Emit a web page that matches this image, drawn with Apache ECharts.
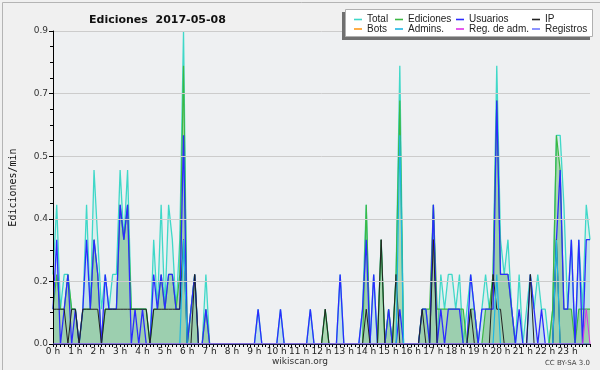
<!DOCTYPE html>
<html>
<head>
<meta charset="utf-8">
<script src="https://cdn.jsdelivr.net/npm/echarts@6/dist/echarts.min.js"></script>
<style>html,body{margin:0;padding:0;background:#f0f0f0;}#c{width:600px;height:370px;}</style>
</head>
<body>
<div id="c"></div>
<script>
// 10-minute bins, index i -> hour i/6 (145 points, 0 h .. 24 h)
const total = [
 0.2,0.4,0.1,0.2,0.2,0.1, 0.1,0,0.1,0.4,0.1,0.5, 0.3,0.1,0.2,0.1,0.2,0.2, 0.5,0.3,0.5,0.1,0.1,0.1,
 0.1,0.1,0,0.3,0.1,0.4, 0.1,0.4,0.3,0.1,0.3,0.9, 0,0.1,0.2,0,0,0.2, 0,0,0,0,0,0,
 0,0,0,0,0,0, 0,0.1,0,0,0,0, 0,0.1,0,0,0,0, 0,0,0,0.1,0,0,
 0,0.1,0,0,0,0.2, 0,0,0,0,0,0.1, 0.4,0,0.2,0,0.3,0, 0.1,0,0.2,0.8,0,0,
 0,0,0,0.1,0.1,0, 0.4,0,0.2,0.1,0.2,0.2, 0.1,0.2,0,0.1,0.2,0.1, 0,0.1,0.2,0.1,0.2,0.8,
 0.3,0.2,0.3,0.1,0,0.2, 0,0.1,0.2,0.1,0.2,0.1, 0.1,0,0.1,0.6,0.6,0.4, 0.1,0.3,0,0.3,0.1,0.4,
 0.3];
const ediciones = [
 0.1,0.2,0.1,0.1,0.2,0.1, 0.1,0,0.1,0.1,0.1,0.3, 0.2,0,0.1,0.1,0.1,0.1, 0.4,0.3,0.4,0.1,0.1,0.1,
 0.1,0.1,0,0.1,0.1,0.2, 0.1,0.2,0.2,0.1,0.2,0.8, 0,0.1,0.2,0,0,0.1, 0,0,0,0,0,0,
 0,0,0,0,0,0, 0,0,0,0,0,0, 0,0,0,0,0,0, 0,0,0,0,0,0,
 0,0.1,0,0,0,0, 0,0,0,0,0,0, 0.4,0,0,0,0.3,0, 0.1,0,0.2,0.7,0,0,
 0,0,0,0.1,0.1,0.1, 0.4,0.1,0.1,0.1,0.1,0.1, 0.1,0.1,0.1,0,0.1,0.1, 0,0,0.1,0.1,0.2,0.7,
 0.2,0.2,0.2,0.1,0,0, 0,0,0,0,0,0, 0,0,0.1,0.6,0.5,0.1, 0.1,0.1,0,0.1,0.1,0.1,
 0.1];
const usuarios = [
 0.1,0.3,0,0.1,0.2,0, 0.1,0,0.1,0.3,0.1,0.3, 0.2,0,0.2,0.1,0.1,0.1, 0.4,0.3,0.4,0,0.1,0,
 0.1,0,0,0.2,0.1,0.2, 0.1,0.2,0.2,0.1,0.1,0.6, 0,0.1,0.2,0,0,0.1, 0,0,0,0,0,0,
 0,0,0,0,0,0, 0,0.1,0,0,0,0, 0,0.1,0,0,0,0, 0,0,0,0.1,0,0,
 0,0,0,0,0,0.2, 0,0,0,0,0,0.1, 0.3,0,0.2,0,0,0, 0.1,0,0,0.1,0,0,
 0,0,0,0.1,0.1,0, 0.4,0,0.1,0,0.1,0.1, 0.1,0.1,0,0,0.2,0.1, 0,0.1,0.1,0.1,0.1,0.7,
 0.2,0.2,0.2,0.1,0,0.1, 0,0,0.2,0.1,0,0.1, 0,0,0,0.3,0.5,0.1, 0.1,0.3,0,0.3,0,0.3,
 0.3];
const ip = [
 0.1,0.1,0.1,0.1,0,0.1, 0.1,0,0.1,0.1,0.1,0.1, 0.1,0,0.1,0.1,0.1,0.1, 0.1,0.1,0.1,0.1,0.1,0.1,
 0.1,0.1,0,0.1,0.1,0.1, 0.1,0.1,0.1,0.1,0.1,0.3, 0,0,0.2,0,0,0, 0,0,0,0,0,0,
 0,0,0,0,0,0, 0,0,0,0,0,0, 0,0,0,0,0,0, 0,0,0,0,0,0,
 0,0.1,0,0,0,0, 0,0,0,0,0,0, 0.1,0,0,0,0.3,0, 0,0,0.2,0,0,0,
 0,0,0,0.1,0,0, 0.3,0,0,0,0,0, 0,0,0,0,0.1,0, 0,0,0,0,0.2,0.1,
 0.1,0,0,0,0,0, 0,0,0.2,0,0,0, 0,0,0,0.3,0,0, 0,0,0,0,0,0,
 0];
const bots = new Array(145).fill(0);
const admins = [
 0,0,0,0,0,0, 0,0,0,0,0,0, 0,0,0,0,0,0, 0,0,0,0,0,0,
 0,0,0,0,0,0, 0,0,0,0,0,0.3, 0,0,0,0,0,0, 0,0,0,0,0,0,
 0,0,0,0,0,0, 0,0,0,0,0,0, 0,0,0,0,0,0, 0,0,0,0,0,0,
 0,0,0,0,0,0, 0,0,0,0,0,0, 0,0,0,0,0,0, 0,0,0,0.6,0,0,
 0,0,0,0,0,0, 0,0,0,0,0,0, 0,0,0,0,0,0, 0,0,0,0,0,0.2,
 0,0,0,0,0,0, 0,0,0,0,0,0, 0,0,0,0.3,0,0, 0,0,0,0,0,0,
 0];
const regAdm = new Array(145).fill(0); regAdm[143] = 0.1;
const registros = new Array(145).fill(0);

const yTicks = [0, 0.18, 0.36, 0.54, 0.72, 0.9];
const names = ['Total','Ediciones','Usuarios','IP','Bots','Admins.','Reg. de adm.','Registros'];
const colors = ['#3fd8c8','#3cb843','#2b2bff','#222222','#ff9a1a','#1fb6e4','#e030e8','#6f78ff'];
const values = [total, ediciones, usuarios, ip, bots, admins, regAdm, registros];
const areas = ['rgba(64,224,208,0.14)','rgba(72,170,52,0.45)',null,null,null,null,null,null];
const widths = [1.3,1.2,1.3,1,1,1.2,1,1];

const toPts = arr => arr.map((v, i) => [i / 6, v]);

const series = names.map((n, k) => {
  const s = {
    name: n, type: 'line', data: toPts(values[k]), symbol: 'none', showSymbol: false,
    color: colors[k], lineStyle: {color: colors[k], width: widths[k]}, z: 3 + k,
    emphasis: {disabled: true}, silent: true, animation: false
  };
  if (areas[k]) s.areaStyle = {color: areas[k], origin: 'start'};
  return s;
});
// light blue area under the Usuarios line, drawn below the green Ediciones area
series.push({
  name: '_usuariosArea', type: 'line', data: toPts(usuarios), symbol: 'none', showSymbol: false,
  lineStyle: {width: 0, opacity: 0}, areaStyle: {color: 'rgba(110,175,215,0.3)', origin: 'start'},
  z: 2.5, silent: true, animation: false, color: '#6fb0d8'
});

const legendPos = [
  [354, 14.5],[395, 14.5],[456, 14.5],[532, 14.5],
  [354, 24],[395, 24],[456, 24],[532, 24]
];
const legends = names.map((n, k) => ({
  data: [{name: n, icon: 'rect', itemStyle: {color: colors[k]}}],
  left: legendPos[k][0], top: legendPos[k][1], padding: 0,
  itemWidth: 8, itemHeight: 1.6, selectedMode: false,
  textStyle: {fontSize: 10, fontFamily: 'Liberation Sans', color: '#222', lineHeight: 10},
  z: 20
}));

const chart = echarts.init(document.getElementById('c'), null, {renderer: 'canvas'});
chart.setOption({
  backgroundColor: '#f0f0f0',
  animation: false,
  title: {
    text: 'Ediciones  2017-05-08', left: 84, top: 10,
    textStyle: {fontSize: 11, fontWeight: 'bold', fontFamily: 'DejaVu Sans', color: '#111'}
  },
  grid: {left: 46, right: 10, top: 31, bottom: 26, show: true, backgroundColor: '#eef0f2', borderWidth: 0},
  legend: legends,
  xAxis: {
    type: 'value', min: 0, max: 24, interval: 1, z: 10,
    axisLine: {lineStyle: {color: '#000', width: 1}},
    axisTick: {show: true, length: 3, lineStyle: {color: '#000'}},
    minorTick: {show: true, splitNumber: 6, length: 3, lineStyle: {color: '#000'}},
    axisLabel: {fontSize: 9, color: '#222', margin: 3, showMaxLabel: false, formatter: v => v + ' h', fontFamily: 'DejaVu Sans'},
    splitLine: {show: false}
  },
  yAxis: {
    type: 'value', min: yTicks[0], max: yTicks[yTicks.length - 1], interval: 0.18, z: 10,
    name: 'Ediciones/min', nameLocation: 'middle', nameGap: 35, nameRotate: 90,
    nameTextStyle: {fontSize: 10, fontFamily: 'DejaVu Sans Mono', color: '#111'},
    axisLine: {show: true, lineStyle: {color: '#000', width: 1}},
    axisTick: {show: true, length: 4, lineStyle: {color: '#000'}},
    minorTick: {show: true, splitNumber: 4, length: 3, lineStyle: {color: '#000'}},
    axisLabel: {fontSize: 9, color: '#333', margin: 5, formatter: v => v.toFixed(1), fontFamily: 'DejaVu Sans'},
    splitLine: {show: true, lineStyle: {color: '#cccccc', width: 1}}
  },
  graphic: [
    {type: 'rect', left: 0, top: 0, z: 100, silent: true,
     shape: {x: 0.5, y: 0.5, width: 599, height: 369},
     style: {fill: 'none', stroke: '#b4b4b4', lineWidth: 1}},
    {type: 'rect', z: 14, silent: true,
     shape: {x: 342, y: 12, width: 248, height: 28},
     style: {fill: '#707070'}},
    {type: 'rect', z: 15, silent: true,
     shape: {x: 345.5, y: 9.5, width: 247, height: 27},
     style: {fill: '#ffffff', stroke: '#b0b0b0', lineWidth: 1}},
    {type: 'text', z: 20, silent: true, x: 300, y: 357,
     style: {text: 'wikiscan.org', fontSize: 9, fontFamily: 'DejaVu Sans', fill: '#333', align: 'center'}},
    {type: 'text', z: 20, silent: true, x: 590, y: 360,
     style: {text: 'CC BY-SA 3.0', fontSize: 7, fontFamily: 'DejaVu Sans', fill: '#444', align: 'right'}}
  ],
  series: series
});
</script>
</body>
</html>
